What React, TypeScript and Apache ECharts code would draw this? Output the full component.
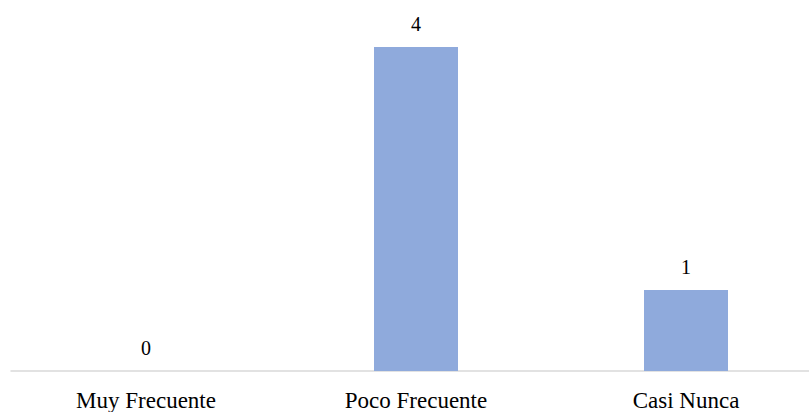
import React, { useEffect, useRef } from "react";
import * as echarts from "echarts";

const categories = ["Muy Frecuente", "Poco Frecuente", "Casi Nunca"];
const values = [0, 4, 1];

export default function App() {
  const ref = useRef<HTMLDivElement>(null);
  useEffect(() => {
    if (!ref.current) return;
    const chart = echarts.init(ref.current, null, { renderer: "svg" });
    chart.setOption({
      animation: false,
      grid: { left: 11, width: 810, top: 47, bottom: 41, outerBoundsMode: "none", containLabel: false },
      xAxis: {
        type: "category",
        data: categories,
        axisLine: { lineStyle: { color: "#d9d9d9", width: 1.5 } },
        axisTick: { show: false },
        axisLabel: {
          color: "#000",
          fontFamily: "'Liberation Serif', 'Times New Roman', serif",
          fontSize: 23,
          lineHeight: 20,
          margin: 19,
        },
      },
      yAxis: {
        type: "value",
        min: 0,
        max: 4,
        show: false,
        splitLine: { show: false },
      },
      series: [
        {
          type: "bar",
          data: values,
          barWidth: 84,
          itemStyle: { color: "#8faadc" },
          label: {
            show: true,
            position: "top",
            distance: 13,
            color: "#000",
            fontFamily: "'Liberation Serif', 'Times New Roman', serif",
            fontSize: 20,
          },
        },
      ],
    });
    return () => chart.dispose();
  }, []);
  return (
    <div
      ref={ref}
      style={{ position: "fixed", left: 0, top: 0, width: 809, height: 412, background: "#fff" }}
    />
  );
}
